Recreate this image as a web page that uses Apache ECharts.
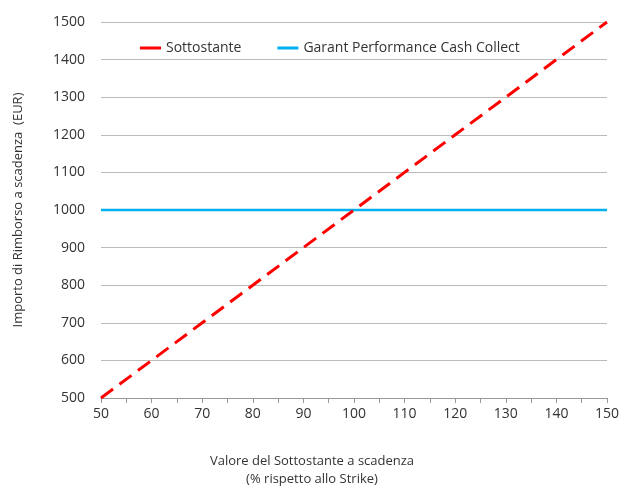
<!DOCTYPE html>
<html><head><meta charset="utf-8">
<script src="https://cdn.jsdelivr.net/npm/echarts@6/dist/echarts.min.js"></script>
<style>html,body{margin:0;padding:0;background:#fff}#c{width:624px;height:486px}</style>
</head><body><div id="c"></div>
<script>
const strikeLevels = [50, 60, 70, 80, 90, 100, 110, 120, 130, 140, 150];
const sottostante = [500, 600, 700, 800, 900, 1000, 1100, 1200, 1300, 1400, 1500];
const garant = [1000, 1000, 1000, 1000, 1000, 1000, 1000, 1000, 1000, 1000, 1000];
const seriesNames = ['Sottostante', 'Garant Performance Cash Collect'];
const seriesColors = ['#ff0000', '#00b0f0'];
const yAxisTitle = 'Importo di Rimborso a scadenza  (EUR)';
const xAxisTitle = ['Valore del Sottostante a scadenza', '(% rispetto allo Strike)'];

const font = 'Open Sans';
const chart = echarts.init(document.getElementById('c'));
chart.setOption({
  animation: false,
  textStyle: {fontFamily: font},
  grid: {left: 101, right: 17, top: 22, bottom: 88, containLabel: false},
  legend: {
    top: 36, left: 135, itemGap: 36, itemWidth: 21, itemHeight: 3,
    icon: 'rect',
    textStyle: {fontFamily: font, fontSize: 14, color: '#333'},
    data: seriesNames
  },
  xAxis: {
    type: 'value', min: 50, max: 150, interval: 10,
    axisLine: {show: true, lineStyle: {color: '#999', width: 1}},
    axisTick: {show: true, length: 5, lineStyle: {color: '#999'}},
    minorTick: {show: true, splitNumber: 2, length: 5, lineStyle: {color: '#999'}},
    splitLine: {show: false},
    axisLabel: {fontFamily: font, fontSize: 14, color: '#333', margin: 9}
  },
  yAxis: {
    type: 'value', min: 500, max: 1500, interval: 100,
    axisLine: {show: false}, axisTick: {show: false},
    splitLine: {show: true, lineStyle: {color: '#bbb', width: 1}},
    axisLabel: {fontFamily: font, fontSize: 14, color: '#333', margin: 16, formatter: v => String(v)},
    name: yAxisTitle, nameLocation: 'middle', nameGap: 76,
    nameTextStyle: {fontFamily: font, fontSize: 13, color: '#333'}
  },
  graphic: [
    {type: 'text', left: 'center', top: 455, style: {text: xAxisTitle[0], font: '13px "Open Sans"', fill: '#333'}},
    {type: 'text', left: 'center', top: 473, style: {text: xAxisTitle[1], font: '13px "Open Sans"', fill: '#333'}}
  ],
  series: [
    // legend-swatch carrier (solid red, no data), shares its name with the dashed series
    {name: seriesNames[0], type: 'line', symbol: 'none', data: [],
     lineStyle: {color: seriesColors[0], width: 3, type: 'solid'}, itemStyle: {color: seriesColors[0]}},
    {name: seriesNames[0], type: 'line', symbol: 'none',
     data: strikeLevels.map((x, i) => [x, sottostante[i]]),
     lineStyle: {color: seriesColors[0], width: 3, type: [15, 8]}, itemStyle: {color: seriesColors[0]}, z: 3},
    {name: seriesNames[1], type: 'line', symbol: 'none',
     data: strikeLevels.map((x, i) => [x, garant[i]]),
     lineStyle: {color: seriesColors[1], width: 2.5}, itemStyle: {color: seriesColors[1]}, z: 2}
  ]
});
</script></body></html>
